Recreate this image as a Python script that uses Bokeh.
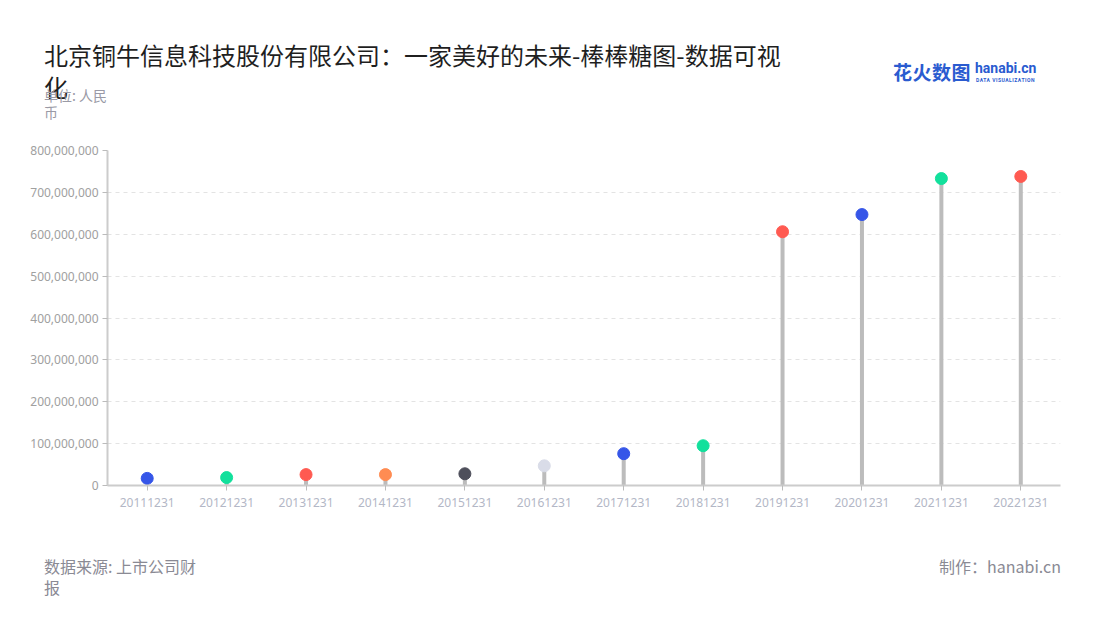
from bokeh.plotting import figure
from bokeh.models import Range1d, FactorRange, NumeralTickFormatter, ColumnDataSource, FixedTicker, Div
from bokeh.layouts import column
from bokeh.embed import file_html
from bokeh.resources import INLINE

categories = ["20111231", "20121231", "20131231", "20141231", "20151231", "20161231",
              "20171231", "20181231", "20191231", "20201231", "20211231", "20221231"]
values = [17e6, 19e6, 26e6, 26e6, 28e6, 47e6, 76e6, 95e6, 606e6, 647e6, 733e6, 738e6]
dot_colors = ["#3656e8", "#12e09c", "#ff5a51", "#ff8c52", "#4e4f5b", "#d9dce8",
              "#3656e8", "#12e09c", "#ff5a51", "#3656e8", "#12e09c", "#ff5a51"]
y_ticks = [0, 100e6, 200e6, 300e6, 400e6, 500e6, 600e6, 700e6, 800e6]

title_text = "北京铜牛信息科技股份有限公司：一家美好的未来-棒棒糖图-数据可视化"
unit_text = "单位: 人民币"
source_text = "数据来源: 上市公司财报"
credit = "制作：hanabi.cn"

W = 1096
HEAD_H, FIG_H, FOOT_H = 130, 415, 71
CJK = "'Noto Sans CJK SC', 'Noto Sans', sans-serif"

src = ColumnDataSource(dict(cat=categories, val=values, zero=[0] * len(values), color=dot_colors))

p = figure(width=W, height=FIG_H, x_range=FactorRange(*categories, range_padding=0),
           y_range=Range1d(0, 8e8), output_backend="svg", toolbar_location=None,
           min_border_left=107, min_border_top=20, min_border_right=W - 1060, min_border_bottom=60)
p.outline_line_color = None

p.segment(x0="cat", y0="zero", x1="cat", y1="val", source=src, line_color="#bcbcbc", line_width=4)
p.scatter(x="cat", y="val", source=src, size=12, fill_color="color", line_color="color", line_width=1)

FONT = "Noto Sans"

p.xgrid.grid_line_color = None
p.ygrid.grid_line_color = "#e3e3e3"
p.ygrid.grid_line_dash = "4 4"
p.ygrid.grid_line_width = 1

p.yaxis.ticker = FixedTicker(ticks=y_ticks)
p.yaxis.formatter = NumeralTickFormatter(format="0,0")
for ax in (p.xaxis[0], p.yaxis[0]):
    ax.axis_line_color = "#cccccc"
    ax.axis_line_width = 2
    ax.major_tick_line_color = "#bbbbbb"
    ax.major_tick_in = 0
    ax.major_tick_out = 5
    ax.minor_tick_line_color = None
    ax.major_label_text_font = FONT
    ax.major_label_text_font_size = "12px"
p.yaxis.major_label_text_color = "#a0a0a0"
p.xaxis.major_label_text_color = "#b3b7c6"
p.yaxis.major_label_standoff = 4
p.xaxis.major_label_standoff = 7

head_html = f"""
<div style="position:relative;width:{W}px;height:{HEAD_H}px;font-family:{CJK};">
  <div style="position:absolute;left:44px;top:39px;width:745px;font-size:24px;line-height:32px;color:#1f1f1f;">{title_text}</div>
  <div style="position:absolute;left:44px;top:87px;width:72px;font-size:14px;line-height:17px;color:#9a9aa6;">{unit_text}</div>
  <div style="position:absolute;left:893px;top:59px;font-size:19px;line-height:26px;font-weight:bold;color:#2a5bd0;white-space:nowrap;letter-spacing:0.5px;">花火数图</div>
  <div style="position:absolute;left:975px;top:59px;font-family:Roboto;font-size:14px;line-height:18px;font-weight:bold;color:#2a5bd0;white-space:nowrap;">hanabi.cn</div>
  <div style="position:absolute;left:976px;top:77px;font-family:Roboto;font-size:5px;line-height:6px;font-weight:bold;color:#2a5bd0;white-space:nowrap;letter-spacing:0.5px;">DATA VISUALIZATION</div>
</div>
"""

foot_html = f"""
<div style="position:relative;width:{W}px;height:{FOOT_H}px;font-family:{CJK};">
  <div style="position:absolute;left:44px;top:11px;width:156px;font-size:16px;line-height:21px;color:#8a8a94;">{source_text}</div>
  <div style="position:absolute;right:{W - 1061}px;top:11px;font-size:16px;line-height:21px;color:#8a8a94;white-space:nowrap;">{credit}</div>
</div>
"""

head = Div(text=head_html, width=W, height=HEAD_H, margin=0)
foot = Div(text=foot_html, width=W, height=FOOT_H, margin=0)
p.margin = 0

layout = column(head, p, foot, spacing=0)
open("out.html", "w").write(file_html(layout, INLINE))
